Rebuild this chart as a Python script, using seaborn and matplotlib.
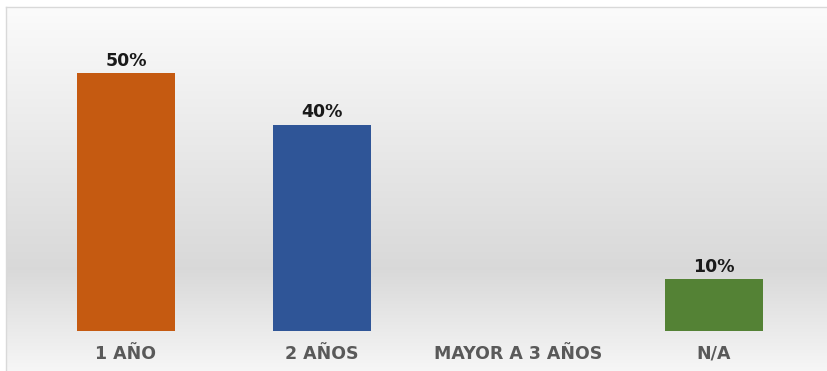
import numpy as np
import pandas as pd
import matplotlib
matplotlib.use("Agg")
import matplotlib.pyplot as plt
import seaborn as sns

categories = ["1 AÑO", "2 AÑOS", "MAYOR A 3 AÑOS", "N/A"]
values = [50, 40, 0, 10]
value_labels = ["50%", "40%", "", "10%"]
colors = ["#C55A11", "#2F5597", "#A5A5A5", "#548235"]

sns.set_theme(style="white")
plt.rcParams["font.family"] = ["DejaVu Sans"]

fig = plt.figure(figsize=(8.28, 3.71), dpi=100)
fig.patch.set_facecolor("white")

# vertical gradient backdrop: light at top, grey band low, light again at the bottom
bg = fig.add_axes([6 / 828, 0, 1 - 6 / 828, (371 - 7) / 371])
stops_y = np.array([0.0, 0.28, 0.95, 1.0])
stops_v = np.array([0.965, 0.85, 0.975, 0.985])
yy = np.linspace(0, 1, 400)
shade = np.interp(yy, stops_y, stops_v)
img = np.repeat(shade[:, None], 2, axis=1)
bg.imshow(np.dstack([img, img, img]), aspect="auto", origin="lower",
          extent=[0, 1, 0, 1], interpolation="bilinear")
bg.set_xlim(0, 1)
bg.set_ylim(0, 1)
bg.set_xticks([])
bg.set_yticks([])
for side, sp in bg.spines.items():
    sp.set_visible(side in ("top", "left"))
    sp.set_color("#d9d9d9")
    sp.set_linewidth(1.0)

ax = fig.add_axes([28 / 828, 1 - 331 / 371, (812 - 28) / 828, 309.6 / 371])
ax.patch.set_alpha(0)

df = pd.DataFrame({"cat": categories, "val": values})
sns.barplot(data=df, x="cat", y="val", hue="cat", palette=colors,
            order=categories, hue_order=categories, width=0.5,
            legend=False, ax=ax, saturation=1, linewidth=0)

ax.set_ylim(0, 60)
ax.set_xlim(-0.5, len(categories) - 0.5)
ax.set_xlabel("")
ax.set_ylabel("")
ax.set_yticks([])
for sp in ax.spines.values():
    sp.set_visible(False)
ax.tick_params(axis="x", length=0, pad=10, labelsize=12.5, labelcolor="#595959")
for t in ax.get_xticklabels():
    t.set_fontweight("bold")

for i, (v, lab) in enumerate(zip(values, value_labels)):
    if lab:
        ax.annotate(lab, (i, v), xytext=(0, 2.5), textcoords="offset points",
                    ha="center", va="bottom", fontsize=12.5,
                    fontweight="bold", color="#1a1a1a")

fig.savefig("out.png", dpi=100)
